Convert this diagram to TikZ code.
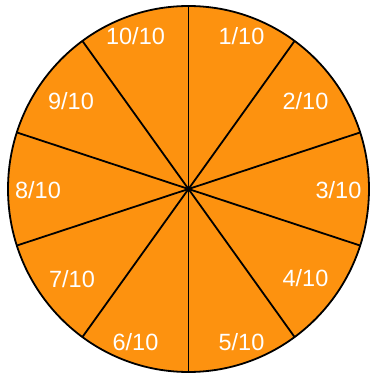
\documentclass[tikz,border=0pt]{standalone}
\usepackage{fontspec}
\setmainfont{Liberation Sans}
\usetikzlibrary{calc}
\definecolor{pieorange}{RGB}{253,146,15}
\begin{document}
\begin{tikzpicture}[x=1pt,y=1pt,
  lbl/.style={text=white,inner sep=0pt,text depth=0pt,anchor=center,font=\fontsize{23.5}{28}\selectfont},
  spoke/.style={line width=1.8pt,black}]
\useasboundingbox (0,0) rectangle (375,376);
\coordinate (c) at (188.5,187);
\fill[pieorange] (c) ellipse [x radius=180.5,y radius=183];
\foreach \a [count=\i] in {90,54,18,-18,-54,-90,-126,-162,162,126}
  \coordinate (b\i) at ($(c)+(\a:180.5 and 183)$);
\foreach \i in {1,...,10}
  \draw[spoke] (c) -- (b\i);
\draw[line width=1.8pt] (c) ellipse [x radius=180.5,y radius=183];
\node[lbl] (l1) at (241.5,340) {1/10};
\node[lbl] (l2) at (305.5,275.5) {2/10};
\node[lbl] (l3) at (338.5,186) {3/10};
\node[lbl] (l4) at (305.5,98) {4/10};
\node[lbl] (l5) at (241.5,34) {5/10};
\node[lbl] (l6) at (135.5,34) {6/10};
\node[lbl] (l7) at (72,97.5) {7/10};
\node[lbl] (l8) at (38,186) {8/10};
\node[lbl] (l9) at (71,275.5) {9/10};
\node[lbl] (l10) at (135.5,340) {10/10};
\end{tikzpicture}
\end{document}
